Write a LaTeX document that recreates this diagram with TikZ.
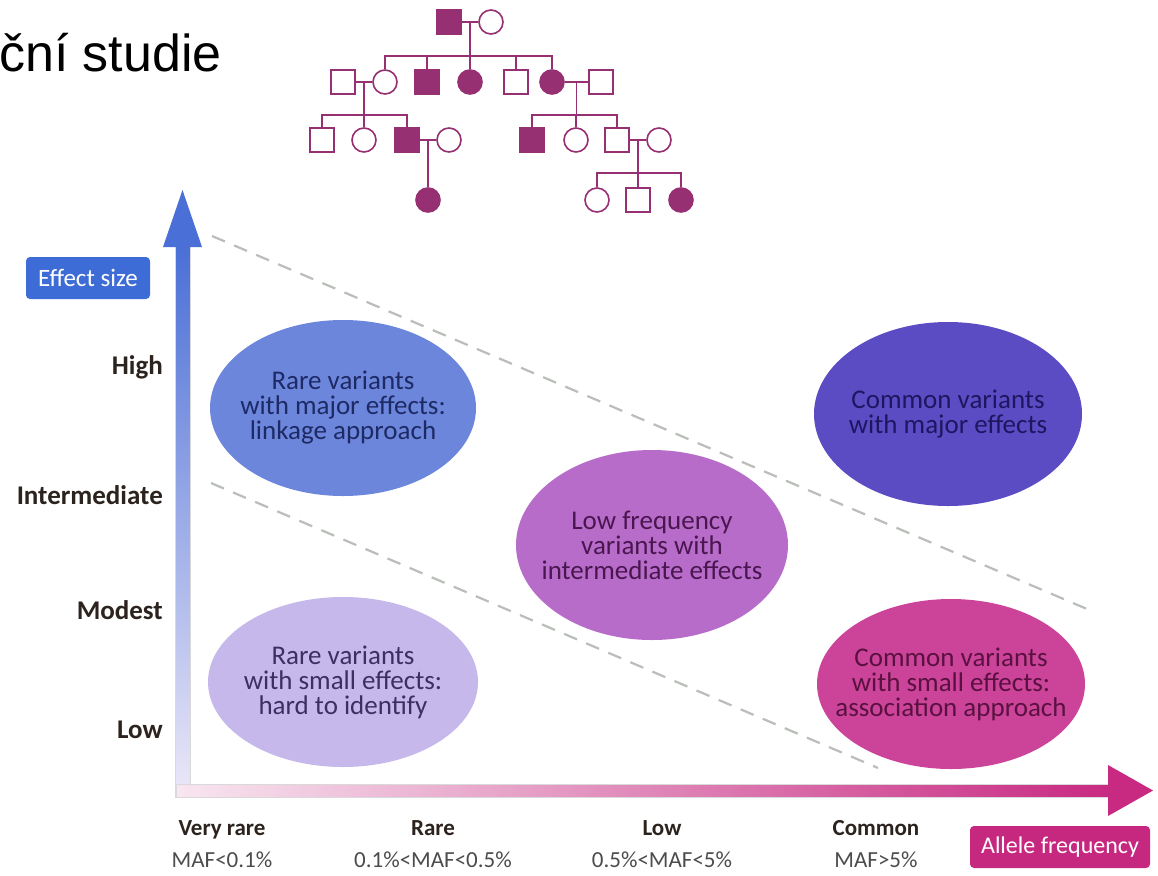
\documentclass[tikz,border=0pt]{standalone}
\usepackage{fontspec}
\setmainfont{Carlito}
\newfontfamily\titlefont{Liberation Sans}
\usetikzlibrary{shapes.geometric,calc}

\definecolor{pedcol}{RGB}{150,48,115}
\definecolor{guidegray}{RGB}{185,190,185}
\definecolor{lvltext}{RGB}{45,35,30}
\definecolor{esblue}{RGB}{62,108,214}
\definecolor{afmag}{RGB}{199,40,127}
\definecolor{ybluetop}{RGB}{74,111,214}
\definecolor{ypale}{RGB}{236,232,248}
\definecolor{xpale}{RGB}{248,230,240}
\definecolor{xmag}{RGB}{200,42,130}
\definecolor{cRareMaj}{RGB}{108,134,219}
\definecolor{cComMaj}{RGB}{91,76,196}
\definecolor{cLowInt}{RGB}{184,108,201}
\definecolor{cRareSm}{RGB}{198,184,234}
\definecolor{cComSm}{RGB}{204,68,153}

\tikzset{
  ped/.style={draw=pedcol, line width=1.6pt, minimum size=24pt, inner sep=0pt, fill=white},
  male/.style={ped, rectangle},
  female/.style={ped, circle},
  maleA/.style={male, fill=pedcol},
  femA/.style={female, fill=pedcol},
  pedline/.style={draw=pedcol, line width=1.6pt},
  guide/.style={draw=guidegray, line width=2.2pt, dash pattern=on 14pt off 10pt},
  variant/.style={ellipse, inner xsep=-50pt, inner ysep=-20pt, align=center,
    font=\fontsize{27}{25}\selectfont},
  level/.style={anchor=east, inner sep=0pt, text=lvltext, font=\bfseries\fontsize{27}{30}\selectfont},
  freq/.style={align=center, inner sep=0pt, font=\fontsize{23}{32}\selectfont},
  tagbox/.style={rounded corners=4pt, text=white, minimum height=42pt, inner sep=0pt}
}

\begin{document}
\begin{tikzpicture}[x=1pt,y=-1pt]
  \useasboundingbox[fill=white] (0,0) rectangle (1158,875);

  % Title
  \node[anchor=base east, inner sep=0pt, font=\titlefont\fontsize{52}{52}\selectfont] (title) at (222,71) {ční studie};

  % Pedigree
  \node[maleA] (I1) at (449,22) {};
  \node[female] (I2) at (491,22) {};
  \foreach \id/\x/\st in {II1/343/male, II2/385/female, II3/427/maleA, II4/470/femA,
      II5/516/male, II6/552/femA, II7/601/male}
    \node[\st] (\id) at (\x,82) {};
  \foreach \id/\x/\st in {III1/322/male, III2/364/female, III3/407/maleA, III4/449/female,
      III5/532/maleA, III6/576/female, III7/617/male, III8/659/female}
    \node[\st] (\id) at (\x,140) {};
  \foreach \id/\x/\st in {IV1/428/femA, IV2/597/female, IV3/638/male, IV4/681/femA}
    \node[\st] (\id) at (\x,200) {};

  \draw[pedline] (I1) -- (I2);
  \coordinate (sibA) at ($(I1)!0.5!(I2)+(0,34)$);
  \draw[pedline] ($(I1)!0.5!(I2)$) -- (sibA);
  \draw[pedline] (II2) |- (sibA) -| (II6);
  \foreach \c in {II3,II4,II5}
    \draw[pedline] (\c) -- (\c |- sibA);

  \draw[pedline] (II1) -- (II2);
  \coordinate (sibB) at ($(II1)!0.5!(II2)+(0,33)$);
  \draw[pedline] ($(II1)!0.5!(II2)$) -- (sibB);
  \draw[pedline] (III1) |- (sibB) -| (III3);
  \draw[pedline] (III2) -- (III2 |- sibB);

  \draw[pedline] (II6) -- (II7);
  \coordinate (sibC) at ($(II6)!0.5!(II7)+(0,33)$);
  \draw[pedline] ($(II6)!0.5!(II7)$) -- (sibC);
  \draw[pedline] (III5) |- (sibC) -| (III7);
  \draw[pedline] (III6) -- (III6 |- sibC);

  \draw[pedline] (III3) -- (III4);
  \draw[pedline] ($(III3)!0.5!(III4)$) -- (IV1);

  \draw[pedline] (III7) -- (III8);
  \coordinate (sibD) at ($(III7)!0.5!(III8)+(0,33)$);
  \draw[pedline] ($(III7)!0.5!(III8)$) -- (sibD);
  \draw[pedline] (IV2) |- (sibD) -| (IV4);
  \draw[pedline] (IV3) -- (IV3 |- sibD);

  % Axes
  \shade[top color=ybluetop, bottom color=ypale, draw=gray!30, line width=0.5pt] (175,245) rectangle (190,797);
  \fill[ybluetop] (163,247) -- (182.5,190) -- (202,247) -- cycle;
  \shade[left color=xpale, right color=xmag, draw=gray!30, line width=0.5pt] (176,784) rectangle (1110,797);
  \fill[xmag] (1108,765) -- (1153,790.5) -- (1108,816) -- cycle;

  % Guide lines
  \coordinate (upS) at (212,236);
  \coordinate (upE) at (1087,609);
  \coordinate (loS) at (211,483);
  \coordinate (loE) at (878,768);
  \draw[guide] (upS) -- (upE);
  \draw[guide] (loS) -- (loE);

  % Variant classes
  \node[variant, fill=cRareMaj, text={rgb,255:red,30;green,42;blue,102},
    minimum width=266pt, minimum height=176pt] (rareMaj) at (343,408)
    {Rare variants\\with major effects:\\linkage approach};
  \node[variant, fill=cComMaj, text={rgb,255:red,30;green,22;blue,96},
    minimum width=268pt, minimum height=184pt] (comMaj) at (948,414)
    {Common variants\\with major effects};
  \node[variant, fill=cLowInt, text={rgb,255:red,74;green,22;blue,80},
    minimum width=272pt, minimum height=190pt] (lowInt) at (652,545)
    {Low frequency\\variants with\\intermediate effects};
  \node[variant, fill=cRareSm, text={rgb,255:red,60;green,48;blue,96},
    minimum width=270pt, minimum height=170pt] (rareSm) at (343,682)
    {Rare variants\\with small effects:\\hard to identify};
  \node[variant, fill=cComSm, text={rgb,255:red,90;green,16;blue,64},
    minimum width=268pt, minimum height=170pt] (comSm) at (951,684)
    {Common variants\\with small effects:\\association approach};

  % Effect size levels
  \node[level] (lvHigh) at (163,367) {High};
  \node[level] (lvInt) at (163,495) {Intermediate};
  \node[level] (lvMod) at (163,610) {Modest};
  \node[level] (lvLow) at (163,730) {Low};
  \node[tagbox, fill=esblue, minimum width=124pt, font=\fontsize{25}{25}\selectfont] (effTag) at (88,278) {Effect size};

  % Allele frequency classes
  \node[freq] (fqVR) at (222,844) {\textbf{\color{lvltext}Very rare}\\{\color{black!70}MAF<0.1\%}};
  \node[freq] (fqR) at (433,844) {\textbf{\color{lvltext}Rare}\\{\color{black!70}0.1\%<MAF<0.5\%}};
  \node[freq] (fqL) at (662,844) {\textbf{\color{lvltext}Low}\\{\color{black!70}0.5\%<MAF<5\%}};
  \node[freq] (fqC) at (876,844) {\textbf{\color{lvltext}Common}\\{\color{black!70}MAF>5\%}};
  \node[tagbox, fill=afmag, minimum width=180pt, font=\fontsize{24}{24}\selectfont] (afTag) at (1060,847) {Allele frequency};
\end{tikzpicture}
\end{document}
